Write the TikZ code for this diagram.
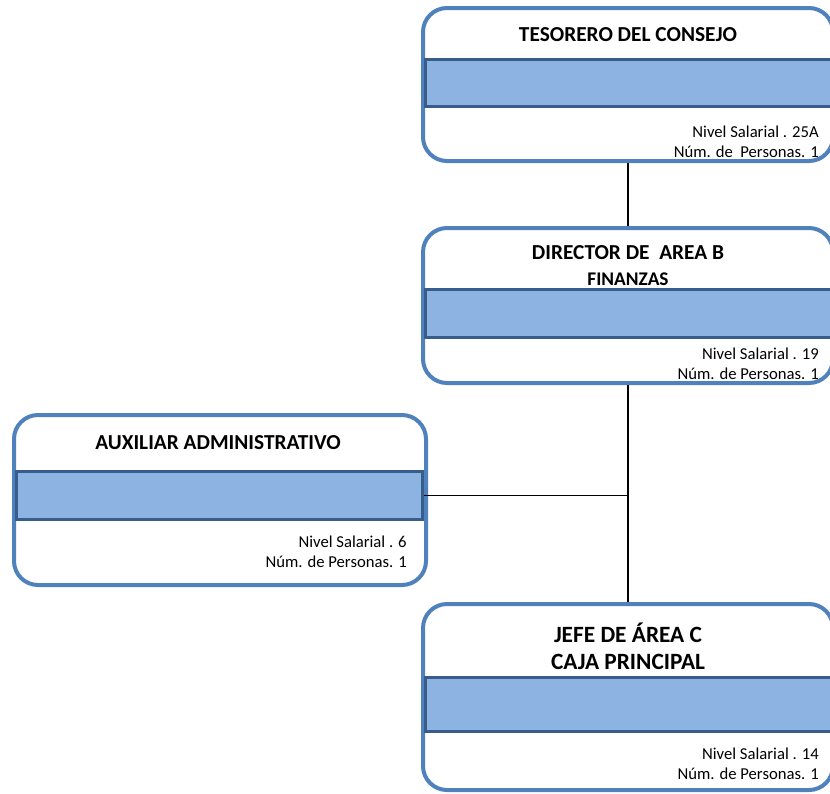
\documentclass[tikz,border=0pt]{standalone}
\usepackage{fontspec}
\setmainfont{Carlito}
\usepackage{tikz}

\definecolor{borde}{RGB}{79,129,189}
\definecolor{relleno}{RGB}{141,179,226}
\definecolor{bordebanda}{RGB}{56,93,138}

\begin{document}
\begin{tikzpicture}[x=0.75pt,y=-0.75pt,
        puesto/.style={draw=borde, line width=3pt, rounded corners=18pt, fill=white, inner sep=0pt},
        banda/.style={draw=bordebanda, line width=2.25pt, fill=relleno, minimum width=304.5pt, inner sep=0pt},
        titulo/.style={font=\bfseries\fontsize{16}{19.5}\selectfont, align=center, inner sep=0pt},
        dato/.style={font=\fontsize{12.5}{15}\selectfont, align=right, anchor=east, inner sep=0pt},
        conector/.style={draw=black, line width=1.1pt}]
        \useasboundingbox (0,0) rectangle (830,793);
        \clip (0,0) rectangle (830,793);

        \node[puesto, minimum width=307.5pt, minimum height=114.75pt] (tes) at (628,84.5) {};
        \node[puesto, minimum width=307.5pt, minimum height=116.25pt] (dir) at (628,305.5) {};
        \node[puesto, minimum width=309pt, minimum height=127.5pt] (aux) at (220,500) {};
        \node[puesto, minimum width=307.5pt, minimum height=139.5pt] (jefe) at (628,697) {};

        \node[banda, minimum height=35.25pt] (tesbanda) at (628,83) {};
        \node[banda, minimum height=36pt] (dirbanda) at (628,313.5) {};
        \node[banda, minimum height=36pt] (auxbanda) at (219,495.5) {};
        \node[banda, minimum height=40.5pt] (jefebanda) at (628,704.5) {};

        \node[titulo] (testitulo) at (628,35) {TESORERO DEL CONSEJO};
        \node[titulo] (dirtitulo) at (628,266) {DIRECTOR DE~ AREA B\\{\fontsize{14.5}{19.5}\selectfont FINANZAS}};
        \node[titulo] (auxtitulo) at (218,443) {AUXILIAR ADMINISTRATIVO};
        \node[titulo, font=\bfseries\fontsize{17.5}{20.25}\selectfont] (jefetitulo) at (628,646.5) {JEFE DE ÁREA C\\CAJA PRINCIPAL};

        \node[dato] (tesdato) at (819,142) {Nivel Salarial . 25A\\Núm. de~ Personas. 1};
        \node[dato] (dirdato) at (819,363.5) {Nivel Salarial . 19\\Núm. de Personas. 1};
        \node[dato] (auxdato) at (407,552) {Nivel Salarial . 6\\Núm. de Personas. 1};
        \node[dato] (jefedato) at (819,764) {Nivel Salarial . 14\\Núm. de Personas. 1};

        \draw[conector] (tes.south) -- (dir.north);
        \draw[conector] (dir.south) -- (jefe.north);
        \draw[conector] (auxbanda.east) -- (auxbanda.east -| dir.south);
    \end{tikzpicture}
\end{document}
